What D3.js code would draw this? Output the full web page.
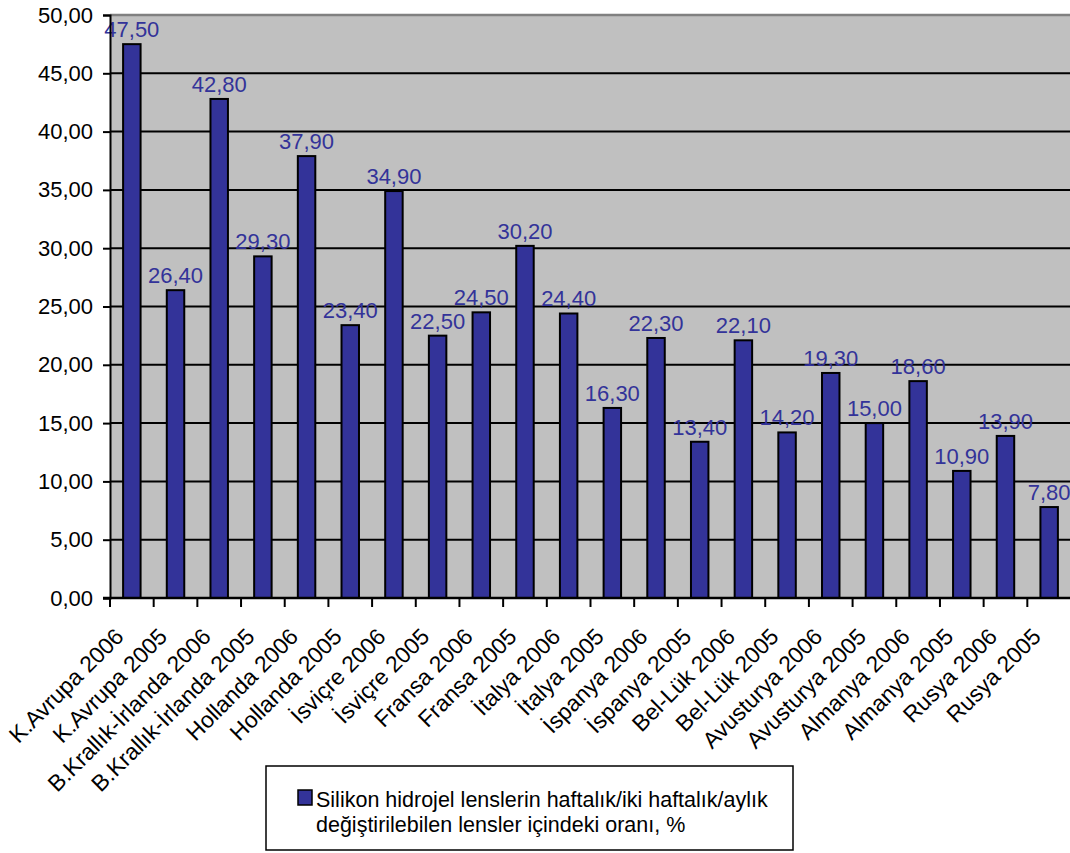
<!DOCTYPE html>
<html>
<head>
<meta charset="utf-8">
<script src="https://cdn.jsdelivr.net/npm/d3@7"></script>
<style>
  body { margin: 0; background: #fff; }
  text { font-family: "Liberation Sans", Arial, sans-serif; }
</style>
</head>
<body>
<div id="chart"></div>
<script>
// chart data
var categories = [
  "K.Avrupa 2006", "K.Avrupa 2005",
  "B.Krallık-İrlanda 2006", "B.Krallık-İrlanda 2005",
  "Hollanda 2006", "Hollanda 2005",
  "İsviçre 2006", "İsviçre 2005",
  "Fransa 2006", "Fransa 2005",
  "İtalya 2006", "İtalya 2005",
  "İspanya 2006", "İspanya 2005",
  "Bel-Lük 2006", "Bel-Lük 2005",
  "Avusturya 2006", "Avusturya 2005",
  "Almanya 2006", "Almanya 2005",
  "Rusya 2006", "Rusya 2005"
];
var values = [47.5, 26.4, 42.8, 29.3, 37.9, 23.4, 34.9, 22.5, 24.5, 30.2, 24.4,
  16.3, 22.3, 13.4, 22.1, 14.2, 19.3, 15.0, 18.6, 10.9, 13.9, 7.8];
var yTicks = [0, 5, 10, 15, 20, 25, 30, 35, 40, 45, 50];
var legendLines = [
  "Silikon hidrojel lenslerin haftalık/iki haftalık/aylık",
  "değiştirilebilen lensler içindeki oranı, %"
];

var svgWidth = 1070;
var svgHeight = 853;

var margin = { top: 15, left: 110 };
var plotRight = 1071;
var plotBottom = 598;
var fontFamily = "Liberation Sans, Arial, sans-serif";
var fontSize = "22px";

var trLocale = d3.formatLocale({ decimal: ",", thousands: ".", grouping: [3], currency: ["", ""] });
var fmt = trLocale.format(".2f");

var svg = d3.select("#chart")
  .append("svg")
  .attr("width", svgWidth)
  .attr("height", svgHeight)
  .attr("font-family", fontFamily);

var xScale = d3.scaleBand()
  .domain(categories)
  .range([margin.left, plotRight])
  .padding(0);

var yScale = d3.scaleLinear()
  .domain([0, 50])
  .range([plotBottom, margin.top]);

// plot background
svg.append("rect")
  .attr("x", margin.left)
  .attr("y", margin.top)
  .attr("width", plotRight - margin.left)
  .attr("height", plotBottom - margin.top)
  .attr("fill", "#c0c0c0");

// top border
svg.append("line")
  .attr("x1", margin.left).attr("x2", plotRight)
  .attr("y1", margin.top).attr("y2", margin.top)
  .attr("stroke", "#808080")
  .attr("stroke-width", 2.5);

// gridlines
svg.append("g")
  .selectAll("line")
  .data(yTicks.filter(d => d > 0 && d < 50))
  .enter()
  .append("line")
  .attr("x1", margin.left).attr("x2", plotRight)
  .attr("y1", d => yScale(d)).attr("y2", d => yScale(d))
  .attr("stroke", "#000")
  .attr("stroke-width", 2);

// bars
var barW = xScale.bandwidth() * 0.4;
svg.append("g")
  .selectAll("rect")
  .data(values)
  .enter()
  .append("rect")
  .attr("x", (d, i) => xScale(categories[i]) + (xScale.bandwidth() - barW) / 2)
  .attr("y", d => yScale(d))
  .attr("width", barW)
  .attr("height", d => plotBottom - yScale(d))
  .attr("fill", "#333399")
  .attr("stroke", "#000")
  .attr("stroke-width", 2);

// value labels
svg.append("g")
  .selectAll("text")
  .data(values)
  .enter()
  .append("text")
  .attr("x", (d, i) => xScale(categories[i]) + xScale.bandwidth() / 2)
  .attr("y", d => yScale(d) - 7)
  .attr("text-anchor", "middle")
  .attr("font-family", fontFamily)
  .attr("font-size", fontSize)
  .attr("fill", "#333399")
  .text(d => fmt(d));

// y axis
var leftAxis = d3.axisLeft(yScale)
  .tickValues(yTicks)
  .tickSize(7)
  .tickPadding(10)
  .tickFormat(fmt);

var yAxis = svg.append("g")
  .attr("transform", `translate(${margin.left}, 0)`)
  .call(leftAxis);
yAxis.select(".domain").attr("stroke", "#000").attr("stroke-width", 2);
yAxis.selectAll(".tick line").attr("stroke", "#000").attr("stroke-width", 2);
yAxis.selectAll(".tick text")
  .attr("font-size", fontSize)
  .attr("font-family", fontFamily)
  .attr("fill", "#000");

// x axis line
svg.append("line")
  .attr("x1", margin.left - 7).attr("x2", plotRight)
  .attr("y1", plotBottom).attr("y2", plotBottom)
  .attr("stroke", "#000")
  .attr("stroke-width", 2.5);

// x ticks on band boundaries
var boundaries = categories.map(c => xScale(c));
svg.append("g")
  .selectAll("line")
  .data(boundaries)
  .enter()
  .append("line")
  .attr("x1", d => d).attr("x2", d => d)
  .attr("y1", plotBottom).attr("y2", plotBottom + 9)
  .attr("stroke", "#000")
  .attr("stroke-width", 2);

// x labels, rotated like the excel ones
svg.append("g")
  .selectAll("text")
  .data(categories)
  .enter()
  .append("text")
  .attr("transform", d => `translate(${xScale(d) + xScale.bandwidth() / 2 - 7}, ${plotBottom + 40}) rotate(-45)`)
  .attr("text-anchor", "end")
  .attr("font-family", fontFamily)
  .attr("font-size", "22.8px")
  .attr("fill", "#000")
  .text(d => d);

// legend
var legend = svg.append("g");
legend.append("rect")
  .attr("x", 266).attr("y", 766)
  .attr("width", 527).attr("height", 84)
  .attr("fill", "#fff")
  .attr("stroke", "#000")
  .attr("stroke-width", 1.5);
legend.append("rect")
  .attr("x", 298).attr("y", 790)
  .attr("width", 14).attr("height", 15)
  .attr("fill", "#333399")
  .attr("stroke", "#000")
  .attr("stroke-width", 1.5);
legend.selectAll(".legendText")
  .data(legendLines)
  .enter()
  .append("text")
  .classed("legendText", true)
  .attr("x", 316)
  .attr("y", (d, i) => 807 + i * 25)
  .attr("font-family", fontFamily)
  .attr("font-size", "21.5px")
  .attr("fill", "#000")
  .text(d => d);
</script>
</body>
</html>
